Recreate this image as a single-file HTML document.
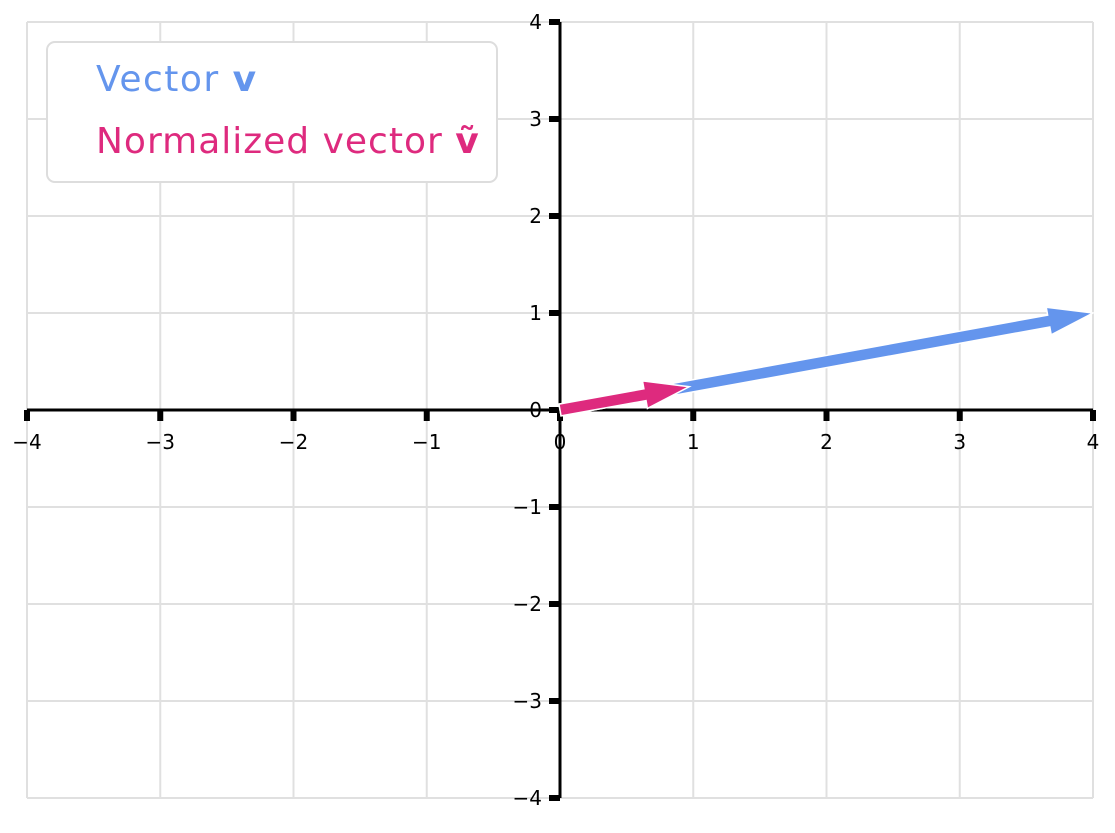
<!DOCTYPE html>
<html><head><meta charset="utf-8"><style>
body{margin:0;background:#fff;}
svg text{font-family:"DejaVu Sans","Liberation Sans",sans-serif;}
</style></head><body>
<svg id="chart" width="1115" height="828" xmlns="http://www.w3.org/2000/svg">
<g id="grid"></g>
<g id="axes"></g>
<g id="vectors"></g>
<g>
<rect x="47" y="42" width="450" height="140" rx="8" fill="#fff" stroke="#ddd" stroke-width="2"/>
<text x="96" y="91" font-size="36" letter-spacing="1.5" fill="#6495ED">Vector <tspan font-weight="bold">v</tspan></text>
<text x="96" y="153" font-size="36" letter-spacing="1" fill="#DE2A7E">Normalized vector <tspan font-weight="bold">ṽ</tspan></text>
</g>
</svg>
<script>
const xTicks=[-4,-3,-2,-1,0,1,2,3,4];
const yTicks=[-4,-3,-2,-1,0,1,2,3,4];
const vectorV=[4,1];
const vectorN=[0.97,0.24];
const NS="http://www.w3.org/2000/svg";
const X=v=>560+v*133.25, Y=v=>410-v*97;
function mk(p,t,a){const e=document.createElementNS(NS,t);for(const k in a)e.setAttribute(k,a[k]);p.appendChild(e);return e;}
const grid=document.getElementById('grid'),axes=document.getElementById('axes'),vec=document.getElementById('vectors');
xTicks.forEach(t=>{const l=mk(grid,'line',{x1:X(t),x2:X(t),y1:Y(4),y2:Y(-4),stroke:'#e0e0e0','stroke-width':2});

});
yTicks.forEach(t=>{const l=mk(grid,'line',{x1:X(-4),x2:X(4),y1:Y(t),y2:Y(t),stroke:'#e0e0e0','stroke-width':2});

});
const xa=mk(axes,'line',{x1:X(-4),x2:X(4),y1:Y(0),y2:Y(0),stroke:'#000','stroke-width':3});


const ya=mk(axes,'line',{x1:X(0),x2:X(0),y1:Y(4),y2:Y(-4),stroke:'#000','stroke-width':3});


xTicks.forEach(t=>{const k=mk(axes,'line',{x1:X(t),x2:X(t),y1:Y(0),y2:Y(0)+11,stroke:'#000','stroke-width':6});


const tx=mk(axes,'text',{x:X(t),y:Y(0)+39,'font-size':20,'text-anchor':'middle'});tx.textContent=t<0?'−'+(-t):t;

});
yTicks.forEach(t=>{const k=mk(axes,'line',{x1:X(0)-11,x2:X(0),y1:Y(t),y2:Y(t),stroke:'#000','stroke-width':6});


const tx=mk(axes,'text',{x:X(0)-18,y:Y(t)+7,'font-size':20,'text-anchor':'end'});tx.textContent=t<0?'−'+(-t):t;

});
function arrow(v,color,name){const x0=X(0),y0=Y(0),x1=X(v[0]),y1=Y(v[1]);
const dx=x1-x0,dy=y1-y0,L=Math.hypot(dx,dy),ux=dx/L,uy=dy/L,px=-uy,py=ux,hl=45,hw=14,w=6;
const bx=x1-ux*hl,by=y1-uy*hl;
const pts=[[x0+px*w,y0+py*w],[bx+px*w,by+py*w],[bx+px*hw,by+py*hw],[x1,y1],[bx-px*hw,by-py*hw],[bx-px*w,by-py*w],[x0-px*w,y0-py*w]];
const p=mk(vec,'polygon',{points:pts.map(q=>q.join(',')).join(' '),fill:color,stroke:'#fff','stroke-width':1.5});

}
arrow(vectorV,'#6495ED','vector-v');
arrow(vectorN,'#DE2A7E','normalized-vector');
</script>
</body></html>
